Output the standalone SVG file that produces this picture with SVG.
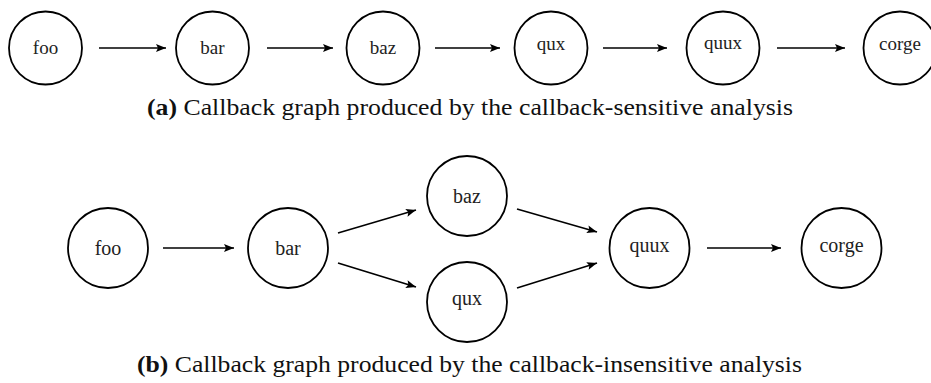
<svg xmlns="http://www.w3.org/2000/svg" width="931" height="383" viewBox="0 0 931 383">
<style>
.n{fill:#fff;stroke:#000;stroke-width:1.8}
.t{font-family:"Liberation Serif","Times New Roman",serif;font-size:19px;fill:#222;text-anchor:middle}
.tb{font-family:"Liberation Serif","Times New Roman",serif;font-size:20px;fill:#222;text-anchor:middle}
.e{stroke:#000;stroke-width:1.6;fill:none;marker-end:url(#ah)}
.cap{font-family:"Liberation Serif","Times New Roman",serif;font-size:22.5px;fill:#111}
</style>
<defs>
<marker id="ah" markerUnits="userSpaceOnUse" markerWidth="12" markerHeight="10" refX="10" refY="4" orient="auto" overflow="visible">
<path d="M0,0 L10,4 L0,8 L2,4 Z" fill="#000"/>
</marker>
</defs>
<g id="connectors">
<line class="e" x1="99" y1="48" x2="166" y2="48"/>
<line class="e" x1="267" y1="48" x2="333" y2="48"/>
<line class="e" x1="435" y1="48" x2="500" y2="48"/>
<line class="e" x1="603" y1="48" x2="667" y2="48"/>
<line class="e" x1="777" y1="48" x2="845" y2="48"/>
<line class="e" x1="163" y1="248" x2="234" y2="248"/>
<line class="e" x1="338" y1="233" x2="416" y2="210"/>
<line class="e" x1="338" y1="263" x2="416" y2="287"/>
<line class="e" x1="517" y1="209" x2="597" y2="232"/>
<line class="e" x1="517" y1="288" x2="597" y2="263"/>
<line class="e" x1="707" y1="248" x2="781" y2="248"/>
</g>
<g id="a-foo"><circle class="n" cx="45.5" cy="48" r="36.5"/><text class="t" x="45.5" y="53.5">foo</text></g>
<g id="a-bar"><circle class="n" cx="212.5" cy="48" r="36.5"/><text class="t" x="212.5" y="53.5">bar</text></g>
<g id="a-baz"><circle class="n" cx="383" cy="48" r="36.5"/><text class="t" x="383" y="53.5">baz</text></g>
<g id="a-qux"><circle class="n" cx="551" cy="48" r="36.5"/><text class="t" x="551" y="50">qux</text></g>
<g id="a-quux"><circle class="n" cx="723" cy="48" r="36.5"/><text class="t" x="723" y="49">quux</text></g>
<g id="a-corge"><circle class="n" cx="900" cy="48" r="36.5"/><text class="t" x="900" y="49.5">corge</text></g>
<text class="cap" x="147" y="115" textLength="646" lengthAdjust="spacingAndGlyphs"><tspan font-weight="bold">(a)</tspan> Callback graph produced by the callback-sensitive analysis</text>
<g id="b-foo"><circle class="n" cx="108" cy="248" r="40"/><text class="tb" x="108" y="255">foo</text></g>
<g id="b-bar"><circle class="n" cx="288" cy="248" r="40"/><text class="tb" x="288" y="255">bar</text></g>
<g id="b-baz"><circle class="n" cx="467" cy="196" r="40"/><text class="tb" x="467" y="202.5">baz</text></g>
<g id="b-qux"><circle class="n" cx="467" cy="302" r="40"/><text class="tb" x="467" y="305">qux</text></g>
<g id="b-quux"><circle class="n" cx="649.5" cy="248" r="40"/><text class="tb" x="649.5" y="251.5">quux</text></g>
<g id="b-corge"><circle class="n" cx="841.5" cy="248" r="40"/><text class="tb" x="841.5" y="251.5">corge</text></g>
<text class="cap" x="137" y="372" textLength="665" lengthAdjust="spacingAndGlyphs"><tspan font-weight="bold">(b)</tspan> Callback graph produced by the callback-insensitive analysis</text>
</svg>
